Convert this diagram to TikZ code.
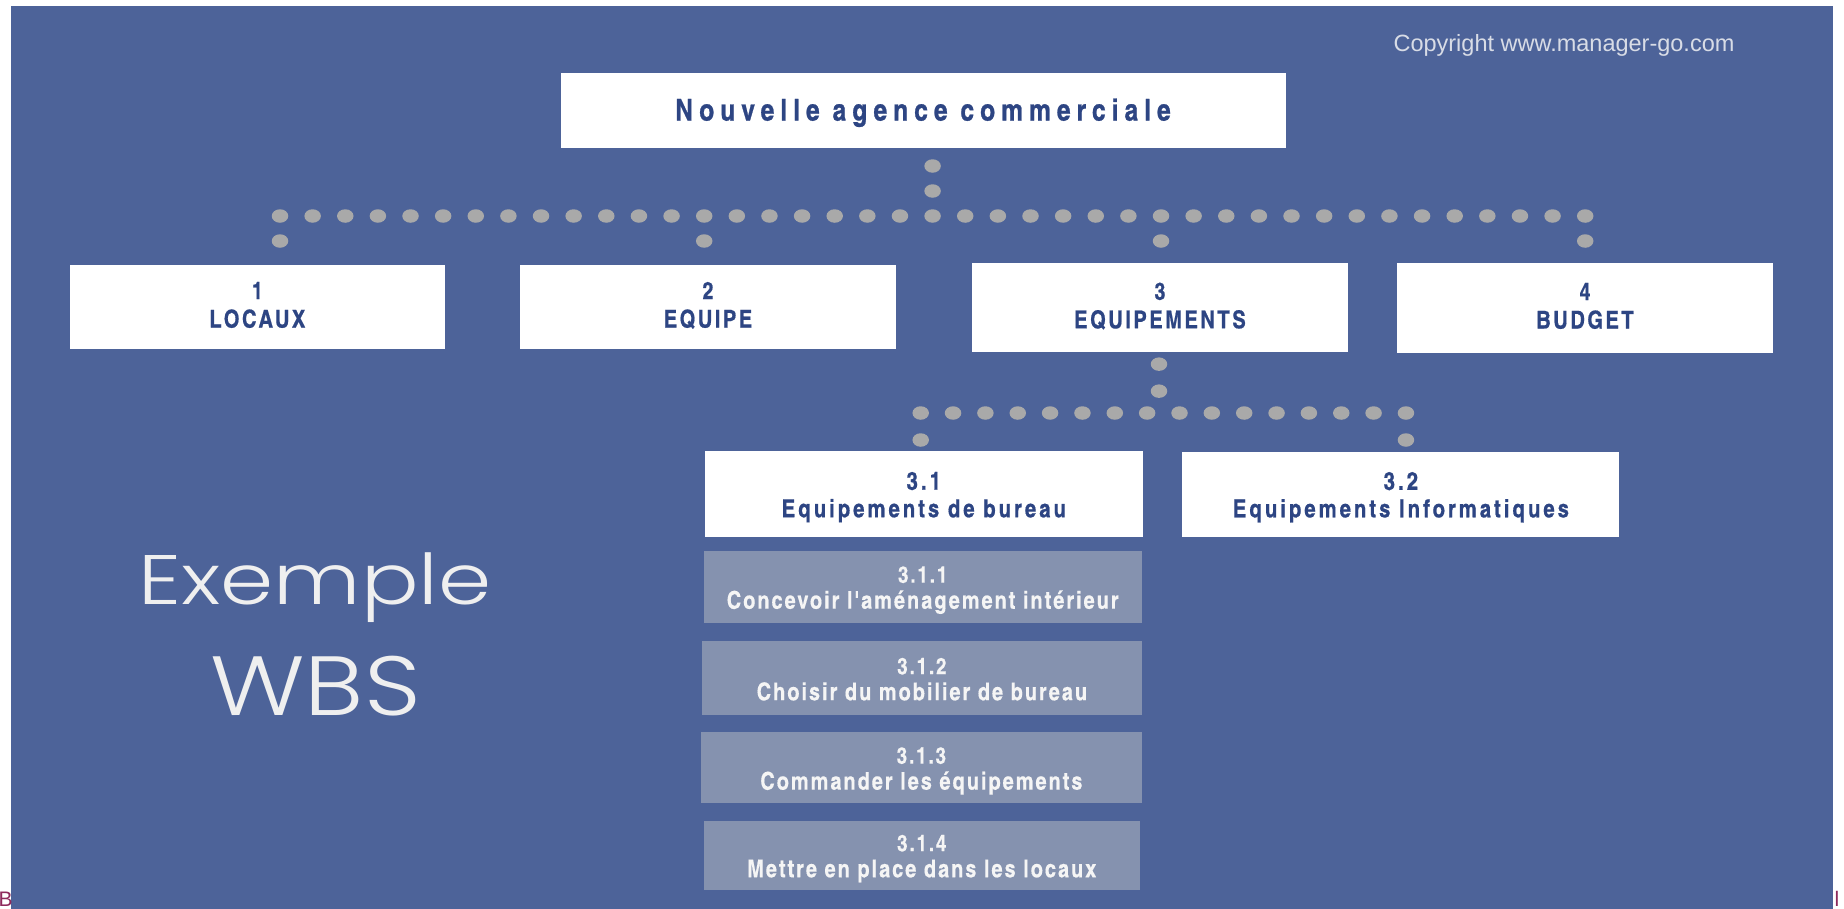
\documentclass[tikz,border=0pt]{standalone}
\usepackage{fontspec}
\usetikzlibrary{calc}
\setmainfont{Liberation Sans}
% condensed bold faces for the WBS boxes
\newfontfamily\topfont{texgyreheroscn-bold.otf}[LetterSpace=20, FakeBold=0.8]
\newfontfamily\lvlfont{texgyreheroscn-bold.otf}[LetterSpace=10, FakeBold=0.6]
\newfontfamily\subfont{texgyreheroscn-bold.otf}[LetterSpace=12, FakeBold=0.6]
\newfontfamily\taskfont{texgyreheroscn-bold.otf}[LetterSpace=8, FakeBold=0.3]
\newfontfamily\handfont{Poppins}[UprightFont={* Light}]
\newfontfamily\notefont{Liberation Sans}

\definecolor{panel}{HTML}{4D6399}
\definecolor{ink}{HTML}{2D4583}
\definecolor{taskfill}{HTML}{8592AF}
\definecolor{taskink}{HTML}{F5F5F5}
\definecolor{dotgray}{HTML}{A9A9A9}
\definecolor{note}{HTML}{D8DCE6}
\definecolor{hand}{HTML}{EFEFEF}
\definecolor{edge}{HTML}{8E2A5C}

\tikzset{
  wbox/.style={fill=white, inner sep=0pt},
  tbox/.style={fill=taskfill, inner sep=0pt},
  txt/.style={inner sep=0pt, anchor=base},
  titletxt/.style={txt, text=ink, font=\topfont\fontsize{30pt}{30pt}\selectfont},
  numA/.style={txt, text=ink, font=\lvlfont\fontsize{24pt}{26pt}\selectfont},
  labA/.style={txt, text=ink, font=\lvlfont\fontsize{24.6pt}{26pt}\selectfont},
  numB/.style={txt, text=ink, font=\subfont\fontsize{25pt}{26pt}\selectfont},
  labB/.style={txt, text=ink, font=\subfont\fontsize{24.8pt}{26pt}\selectfont},
  numC/.style={txt, text=taskink, font=\taskfont\fontsize{23pt}{24pt}\selectfont},
  labC/.style={txt, text=taskink, font=\taskfont\fontsize{24.4pt}{26pt}\selectfont},
  dotmark/.style={fill=dotgray},
}

\begin{document}
\begin{tikzpicture}[x=1pt,y=-1pt]
\useasboundingbox (0,0) rectangle (1844,908);
\fill[white] (0,0) rectangle (1844,908);
\fill[panel] (11,6) rectangle (1833,912);

% page fragments at the lower edge
\node[text=edge, font=\notefont\fontsize{21pt}{21pt}\selectfont, inner sep=0pt, anchor=base west] (fragB) at (-1.7,906.5) {B};
\node[text=edge, font=\notefont\fontsize{21pt}{21pt}\selectfont, inner sep=0pt, anchor=base west] (fragL) at (1834.5,906.5) {l};

% copyright line
\node[text=note, font=\notefont\fontsize{23.5pt}{24pt}\selectfont, inner sep=0pt, anchor=base] (copy) at (1564,51.7) {Copyright www.manager-go.com};

% title
\node[wbox, minimum width=725pt, minimum height=75.6pt] (root) at (923,110.5) {};
\node[titletxt] (rootlab) at ($(root.center)+(0,10)$) {Nouvelle agence commerciale};

% level 1
\node[wbox, minimum width=374.7pt, minimum height=84pt] (n1) at (257.4,307) {};
\node[wbox, minimum width=376pt, minimum height=84pt] (n2) at (708,307) {};
\node[wbox, minimum width=376pt, minimum height=88.5pt] (n3) at (1160,307.7) {};
\node[wbox, minimum width=376pt, minimum height=90pt] (n4) at (1585,308) {};
\foreach \n/\k/\lab in {n1/1/LOCAUX, n2/2/EQUIPE, n3/3/EQUIPEMENTS, n4/4/BUDGET} {
  \node[numA] (\n num) at ($(\n.center)+(0,-8)$) {\k};
  \node[labA] (\n lab) at ($(\n.center)+(0,20.5)$) {\lab};
}

% level 2
\node[wbox, minimum width=437.5pt, minimum height=85.5pt] (n31) at (923.8,494.2) {};
\node[wbox, minimum width=437pt, minimum height=85.3pt] (n32) at (1400.9,494.3) {};
\foreach \n/\k/\lab in {n31/3.1/Equipements de bureau, n32/3.2/Equipements Informatiques} {
  \node[numB] (\n num) at ($(\n.center)+(0,-4.5)$) {\k};
  \node[labB] (\n lab) at ($(\n.center)+(0,23)$) {\lab};
}

% work packages under 3.1
\node[tbox, minimum width=437.9pt, minimum height=72.3pt] (t1) at (922.7,586.7) {};
\node[tbox, minimum width=439.7pt, minimum height=73.9pt] (t2) at (921.9,678.2) {};
\node[tbox, minimum width=440.7pt, minimum height=71.2pt] (t3) at (921.4,767.6) {};
\node[tbox, minimum width=436pt, minimum height=68.9pt] (t4) at (921.8,855.2) {};
\foreach \n/\k/\lab in {t1/3.1.1/Concevoir l'aménagement intérieur,
                        t2/3.1.2/Choisir du mobilier de bureau,
                        t3/3.1.3/Commander les équipements,
                        t4/3.1.4/Mettre en place dans les locaux} {
  \node[numC] (\n num) at ($(\n.center)+(0,-4)$) {\k};
  \node[labC] (\n lab) at ($(\n.center)+(0,22)$) {\lab};
}

% side caption
\node[text=hand, inner sep=0pt, anchor=base] (cap1) at (315,604) {\handfont\fontsize{70pt}{70pt}\selectfont\scalebox{1.22}[1]{Exemple}};
\node[text=hand, inner sep=0pt, anchor=base] (cap2) at (315.5,715) {\handfont\fontsize{84pt}{84pt}\selectfont\scalebox{1.18}[1]{WBS}};

% dotted connector: title -> level 1
\coordinate (row1) at (280,216);
\foreach \yy in {166,191} \fill[dotmark] ($(row1)+(20*32.63,\yy-216)$) ellipse (8.25 and 6.75);
\foreach \i in {0,...,40} \fill[dotmark] ($(row1)+(\i*32.63,0)$) ellipse (8.25 and 6.75);
\foreach \i in {0,13,27,40} \fill[dotmark] ($(row1)+(\i*32.63,25)$) ellipse (8.25 and 6.75);

% dotted connector: 3 -> 3.1 / 3.2
\coordinate (row2) at (920.7,413);
\foreach \yy in {364,391} \fill[dotmark] ($(n3.south)+(-1,\yy-352)$) ellipse (8.25 and 6.75);
\foreach \i in {0,...,15} \fill[dotmark] ($(row2)+(\i*32.35,0)$) ellipse (8.25 and 6.75);
\foreach \i in {0,15} \fill[dotmark] ($(row2)+(\i*32.35,27)$) ellipse (8.25 and 6.75);
\end{tikzpicture}
\end{document}
